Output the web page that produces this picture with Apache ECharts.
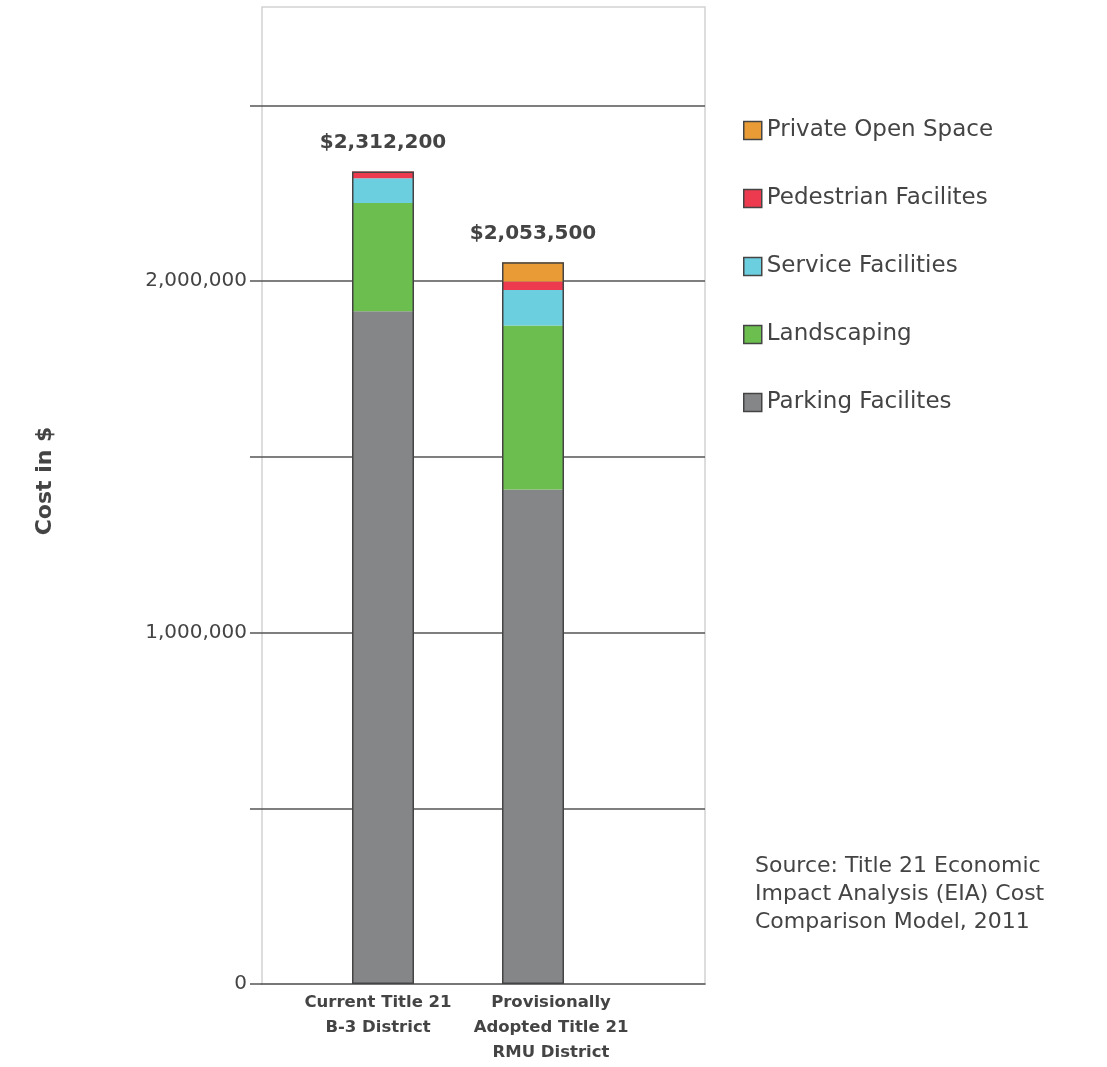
<!DOCTYPE html>
<html>
<head>
<meta charset="utf-8">
<script src="https://cdn.jsdelivr.net/npm/echarts@6/dist/echarts.min.js"></script>
<style>
  html, body { margin: 0; padding: 0; background: #fff; }
  #chart { width: 1107px; height: 1067px; }
</style>
</head>
<body>
<div id="chart"></div>
<script>
// ---- Data ----
const categories = ['Current Title 21\nB-3 District', 'Provisionally\nAdopted Title 21\nRMU District'];
const parking = [1914000, 1407000];
const landscaping = [308000, 467000];
const service = [71000, 101000];
const pedestrian = [19200, 24000];
const privateOpen = [0, 54500];
const totals = [2312200, 2053500];
const seriesNames = ['Parking Facilites', 'Landscaping', 'Service Facilities', 'Pedestrian Facilites', 'Private Open Space'];
const legendOrder = ['Private Open Space', 'Pedestrian Facilites', 'Service Facilities', 'Landscaping', 'Parking Facilites'];
const yLabelValues = [0, 1000000, 2000000];
const yTickValues = [0, 500000, 1000000, 1500000, 2000000, 2500000];
const sourceLines = ['Source: Title 21 Economic', 'Impact Analysis (EIA) Cost', 'Comparison Model, 2011'];

const colors = ['#858688', '#6cbe4e', '#6ccfe0', '#ee3a4f', '#e99c36'];
const values = [parking, landscaping, service, pedestrian, privateOpen];
const TXT = '#444';
const FONT = 'DejaVu Sans';
const Y_MAX = 2780000;

const chart = echarts.init(document.getElementById('chart'), null, { renderer: 'canvas' });

const stackSeries = seriesNames.map((name, i) => ({
  name: name,
  type: 'bar',
  stack: 'total',
  xAxisIndex: 1,
  yAxisIndex: 1,
  barWidth: 62,
  barGap: '-100%',
  itemStyle: { color: colors[i] },
  emphasis: { disabled: true },
  data: values[i]
}));

const outline = {
  name: 'outline',
  type: 'bar',
  xAxisIndex: 1,
  yAxisIndex: 1,
  barWidth: 62,
  barGap: '-100%',
  z: 5,
  itemStyle: { color: 'rgba(0,0,0,0)', borderColor: '#444', borderWidth: 1.5 },
  emphasis: { disabled: true },
  label: {
    show: true,
    position: 'top',
    distance: 19,
    fontFamily: FONT,
    fontWeight: 'bold',
    fontSize: 20,
    color: TXT,
    formatter: p => '$' + p.value.toLocaleString('en-US')
  },
  data: totals
};

const option = {
  animation: false,
  backgroundColor: '#fff',
  textStyle: { fontFamily: FONT },
  grid: [
    { left: 262, width: 443, top: 7, height: 977, show: true, borderColor: '#d2d2d2', borderWidth: 1.5, backgroundColor: 'transparent' },
    { left: 308, width: 300, top: 7, height: 977 }
  ],
  xAxis: [
    {
      gridIndex: 0, type: 'value', min: 0, max: 1,
      axisLine: { show: true, lineStyle: { color: '#555', width: 1.5 } },
      axisTick: { show: false }, axisLabel: { show: false }, splitLine: { show: false }
    },
    {
      gridIndex: 1, type: 'category',
      data: [
        { value: categories[0], textStyle: { padding: [0, 10, 0, 0] } },
        { value: categories[1], textStyle: { padding: [0, 0, 0, 36] } }
      ],
      axisLine: { show: false }, axisTick: { show: false },
      axisLabel: {
        interval: 0, margin: 6, fontFamily: FONT, fontWeight: 'bold', fontSize: 16.5,
        lineHeight: 25, color: TXT
      }
    }
  ],
  yAxis: [
    {
      gridIndex: 0, type: 'value', min: 0, max: Y_MAX, interval: 500000,
      axisLine: { show: false },
      axisTick: { show: true, length: 12, customValues: yTickValues, lineStyle: { color: '#555', width: 1.5 } },
      axisLabel: {
        customValues: yLabelValues,
        margin: 15, fontFamily: FONT, fontSize: 20, color: TXT,
        formatter: v => (yLabelValues.indexOf(v) >= 0 ? v.toLocaleString('en-US') : '')
      },
      splitLine: { show: true, showMinLine: false, lineStyle: { color: '#555', width: 1.5 } }
    },
    {
      gridIndex: 1, type: 'value', min: 0, max: Y_MAX, show: false, splitLine: { show: false }
    }
  ],
  legend: {
    data: legendOrder,
    orient: 'vertical',
    left: 738,
    top: 114,
    itemWidth: 18,
    itemHeight: 18,
    itemGap: 45,
    itemTextGap: 11,
    icon: 'rect',
    itemStyle: { borderColor: '#444', borderWidth: 1.5 },
    selectedMode: false,
    textStyle: { fontFamily: FONT, fontSize: 23, color: TXT, lineHeight: 22 }
  },
  graphic: [
    {
      type: 'text',
      x: 45, y: 481, rotation: Math.PI / 2,
      style: { text: 'Cost in $', fontFamily: FONT, fontWeight: 'bold', fontSize: 22, fill: TXT, align: 'center', verticalAlign: 'middle' }
    },
    {
      type: 'text',
      left: 755, top: 852,
      style: { text: sourceLines.join('\n'), fontFamily: FONT, fontSize: 22, lineHeight: 28, fill: TXT }
    }
  ],
  series: stackSeries.concat([outline])
};

chart.setOption(option);
</script>
</body>
</html>
